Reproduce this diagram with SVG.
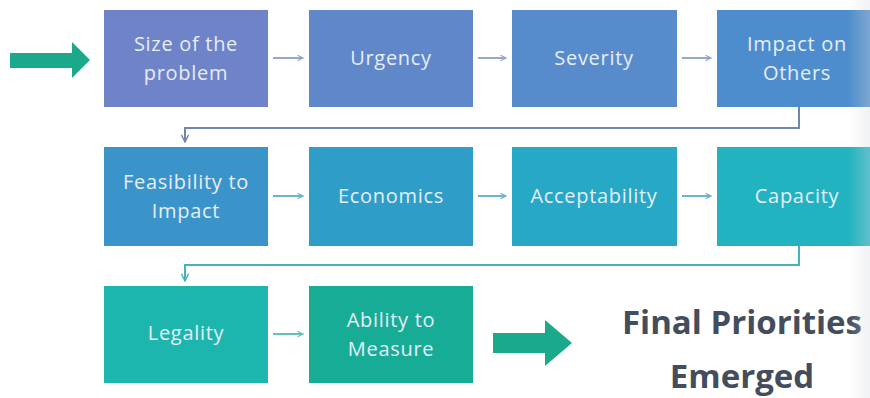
<svg xmlns="http://www.w3.org/2000/svg" width="870" height="398" viewBox="0 0 870 398">
  <defs>
    <style>
      .lbl { font-family: "Open Sans", "Noto Sans", sans-serif; font-size: 20px; letter-spacing: 0.7px; fill: #e6eefa; text-anchor: middle; }
      .big { font-family: "Open Sans", "Noto Sans", sans-serif; font-size: 33px; font-weight: bold; fill: #434d5e; text-anchor: middle; }
      .step { fill: none; stroke-width: 2; }
      .r1 { stroke: #97a7c8; }
      .r2 { stroke: #6cb4cc; }
      .r3 { stroke: #62c2b6; }
      .wrap1 { fill: none; stroke: #6f86b2; stroke-width: 2; }
      .wrap2 { fill: none; stroke: #44b3bb; stroke-width: 2; }
      .fat { fill: #1ba98b; }
    </style>
    <marker id="tipR1" viewBox="0 0 10 10" refX="9" refY="5" markerWidth="7" markerHeight="7" orient="auto" markerUnits="userSpaceOnUse">
      <path d="M1,1 L9,5 L1,9" fill="none" stroke="#97a7c8" stroke-width="1.6"/>
    </marker>
    <marker id="tipR2" viewBox="0 0 10 10" refX="9" refY="5" markerWidth="7" markerHeight="7" orient="auto" markerUnits="userSpaceOnUse">
      <path d="M1,1 L9,5 L1,9" fill="none" stroke="#6cb4cc" stroke-width="1.6"/>
    </marker>
    <marker id="tipR3" viewBox="0 0 10 10" refX="9" refY="5" markerWidth="7" markerHeight="7" orient="auto" markerUnits="userSpaceOnUse">
      <path d="M1,1 L9,5 L1,9" fill="none" stroke="#62c2b6" stroke-width="1.6"/>
    </marker>
    <marker id="tipW1" viewBox="0 0 10 10" refX="9" refY="5" markerWidth="9" markerHeight="9" orient="auto" markerUnits="userSpaceOnUse">
      <path d="M1,1 L9,5 L1,9" fill="none" stroke="#6f86b2" stroke-width="1.6"/>
    </marker>
    <marker id="tipW2" viewBox="0 0 10 10" refX="9" refY="5" markerWidth="9" markerHeight="9" orient="auto" markerUnits="userSpaceOnUse">
      <path d="M1,1 L9,5 L1,9" fill="none" stroke="#44b3bb" stroke-width="1.6"/>
    </marker>
    <linearGradient id="edgeShade" x1="0" y1="0" x2="1" y2="0">
      <stop offset="0" stop-color="#d4d7dc" stop-opacity="0"/>
      <stop offset="1" stop-color="#d4d7dc" stop-opacity="0.35"/>
    </linearGradient>
  </defs>

  <rect width="870" height="398" fill="#ffffff"/>

  <!-- entry arrow -->
  <path class="fat" d="M10,53 H72 V42 L90,60 L72,78 V68 H10 Z"/>

  <!-- row 1 -->
  <g id="size">
    <rect x="104" y="10" width="164" height="97" fill="#6f83c8"/>
    <text class="lbl" x="186" y="51">Size of the</text>
    <text class="lbl" x="186" y="80">problem</text>
  </g>
  <g id="urgency">
    <rect x="309" y="10" width="164" height="97" fill="#6087c9"/>
    <text class="lbl" x="391" y="65">Urgency</text>
  </g>
  <g id="severity">
    <rect x="512" y="10" width="165" height="97" fill="#588bcb"/>
    <text class="lbl" x="594" y="65">Severity</text>
  </g>
  <g id="impact">
    <rect x="717" y="10" width="153" height="97" fill="#4e8dcd"/>
    <text class="lbl" x="797" y="51">Impact on</text>
    <text class="lbl" x="797" y="80">Others</text>
  </g>

  <!-- row 2 -->
  <g id="feasibility">
    <rect x="104" y="147" width="164" height="99" fill="#3a94ca"/>
    <text class="lbl" x="186" y="189">Feasibility to</text>
    <text class="lbl" x="186" y="218">Impact</text>
  </g>
  <g id="economics">
    <rect x="309" y="147" width="164" height="99" fill="#2e9ec8"/>
    <text class="lbl" x="391" y="203">Economics</text>
  </g>
  <g id="acceptability">
    <rect x="512" y="147" width="165" height="99" fill="#27a8c6"/>
    <text class="lbl" x="594" y="203">Acceptability</text>
  </g>
  <g id="capacity">
    <rect x="717" y="147" width="153" height="99" fill="#21b3c0"/>
    <text class="lbl" x="797" y="203">Capacity</text>
  </g>

  <!-- row 3 -->
  <g id="legality">
    <rect x="104" y="286" width="164" height="97" fill="#1db6ae"/>
    <text class="lbl" x="186" y="340">Legality</text>
  </g>
  <g id="measure">
    <rect x="309" y="286" width="164" height="97" fill="#17ac95"/>
    <text class="lbl" x="391" y="327">Ability to</text>
    <text class="lbl" x="391" y="356">Measure</text>
  </g>

  <!-- outcome -->
  <path class="fat" d="M493,333 H545 V320 L572,343 L545,366 V353 H493 Z"/>
  <g id="outcome">
    <text class="big" x="742" y="334">Final Priorities</text>
    <text class="big" x="742" y="388">Emerged</text>
  </g>

  <!-- connectors -->
  <g id="connectors">
    <line class="step r1" x1="273" y1="58" x2="303" y2="58" marker-end="url(#tipR1)"/>
    <line class="step r1" x1="478" y1="58" x2="506" y2="58" marker-end="url(#tipR1)"/>
    <line class="step r1" x1="682" y1="58" x2="711" y2="58" marker-end="url(#tipR1)"/>
    <line class="step r2" x1="273" y1="196" x2="303" y2="196" marker-end="url(#tipR2)"/>
    <line class="step r2" x1="478" y1="196" x2="506" y2="196" marker-end="url(#tipR2)"/>
    <line class="step r2" x1="682" y1="196" x2="711" y2="196" marker-end="url(#tipR2)"/>
    <line class="step r3" x1="273" y1="334" x2="303" y2="334" marker-end="url(#tipR3)"/>
    <path class="wrap1" d="M799,107 V128 H185 V142" marker-end="url(#tipW1)"/>
    <path class="wrap2" d="M799,246 V265 H185 V281" marker-end="url(#tipW2)"/>
  </g>

  <!-- soft shade along the right edge -->
  <rect x="848" y="0" width="22" height="398" fill="url(#edgeShade)"/>
</svg>
